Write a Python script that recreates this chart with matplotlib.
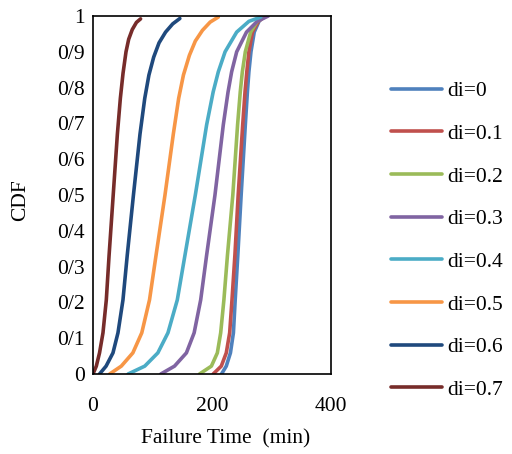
import matplotlib
matplotlib.use('Agg')
import matplotlib.pyplot as plt

plt.rcParams['font.family'] = ['Liberation Serif', 'DejaVu Serif']

# Failure time (min) / CDF points for each di value
labels = ['di=0', 'di=0.1', 'di=0.2', 'di=0.3', 'di=0.4', 'di=0.5', 'di=0.6', 'di=0.7']
colors = ['#4F81BD', '#C0504D', '#9BBB59', '#8064A2', '#4BACC6', '#F79646', '#1F497D', '#772C2A']

t_d0 = [216, 224, 231, 236, 239, 243.4, 249, 256, 259.5, 262, 265.5, 271, 279, 287]
c_d0 = [0, 0.022, 0.059, 0.115, 0.207, 0.332, 0.5, 0.696, 0.788, 0.844, 0.90, 0.955, 0.985, 1.0]

t_d1 = [202, 215.6, 224, 229.7, 233.6, 238.5, 244, 251.6, 255.5, 258.5, 262, 268, 278, 290]
c_d1 = [0, 0.022, 0.059, 0.115, 0.207, 0.332, 0.5, 0.696, 0.788, 0.844, 0.90, 0.955, 0.985, 1.0]

t_d2 = [179, 199, 209, 214.6, 220, 226, 235, 243, 247.5, 251, 256, 265, 276, 290]
c_d2 = [0, 0.022, 0.059, 0.115, 0.207, 0.332, 0.5, 0.696, 0.788, 0.844, 0.90, 0.955, 0.985, 1.0]

t_d3 = [114, 137, 157, 170, 181, 191, 205, 219, 227, 233, 241.5, 258, 276, 294.6]
c_d3 = [0, 0.022, 0.059, 0.115, 0.207, 0.332, 0.5, 0.696, 0.788, 0.844, 0.90, 0.955, 0.985, 1.0]

t_d4 = [59, 87, 109, 126, 141.7, 154.6, 172, 191, 202, 210.6, 222, 241.5, 262, 282]
c_d4 = [0, 0.022, 0.059, 0.115, 0.207, 0.332, 0.5, 0.696, 0.788, 0.844, 0.90, 0.955, 0.985, 0.997]

t_d5 = [28, 47.6, 67, 82, 95, 106, 121, 135, 144, 152, 162, 172, 184, 197, 210.6]
c_d5 = [0, 0.022, 0.059, 0.115, 0.207, 0.332, 0.5, 0.67, 0.77, 0.835, 0.89, 0.93, 0.96, 0.983, 0.997]

t_d6 = [11, 22, 33.6, 42, 50.4, 57.6, 68, 79, 87, 94, 102, 111, 122, 134, 146]
c_d6 = [0, 0.022, 0.059, 0.115, 0.207, 0.332, 0.5, 0.67, 0.77, 0.835, 0.885, 0.925, 0.955, 0.978, 0.993]

t_d7 = [0, 5.6, 11, 16.8, 22.4, 27, 34, 41, 46, 50.5, 55.5, 60, 66, 73, 80]
c_d7 = [0, 0.022, 0.059, 0.115, 0.207, 0.33, 0.5, 0.67, 0.77, 0.84, 0.90, 0.935, 0.962, 0.982, 0.992]

times = [t_d0, t_d1, t_d2, t_d3, t_d4, t_d5, t_d6, t_d7]
cdfs = [c_d0, c_d1, c_d2, c_d3, c_d4, c_d5, c_d6, c_d7]

y_ticks = [0, 0.1, 0.2, 0.3, 0.4, 0.5, 0.6, 0.7, 0.8, 0.9, 1.0]
y_tick_labels = ['0', '0/1', '0/2', '0/3', '0/4', '0/5', '0/6', '0/7', '0/8', '0/9', '1']
x_ticks = [0, 200, 400]

fig = plt.figure(figsize=(5.12, 4.54), dpi=100)
ax = fig.add_axes([0.1816, 0.1762, 0.4649, 0.7886])

for t, c, lab, col in zip(times, cdfs, labels, colors):
    ax.plot(t, c, color=col, linewidth=2.6, label=lab,
            solid_capstyle='round', solid_joinstyle='round')

ax.set_xlim(0, 400)
ax.set_ylim(0, 1)
ax.set_xticks(x_ticks)
ax.set_yticks(y_ticks)
ax.set_yticklabels(y_tick_labels)
ax.tick_params(length=0, labelsize=15.5)
ax.tick_params(axis='x', pad=16.5)
ax.tick_params(axis='y', pad=6)
for s in ax.spines.values():
    s.set_linewidth(1.2)

ax.set_xlabel('Failure Time  (min)', fontsize=15.5)
ax.set_ylabel('CDF', fontsize=15.5)
ax.xaxis.set_label_coords(0.559, -0.155)
ax.yaxis.set_label_coords(-0.265, 0.486)

fig.legend(loc='center left', bbox_to_anchor=(0.7255, 0.47), frameon=False,
           fontsize=15.5, handlelength=2.4, handletextpad=0.2, labelspacing=1.05)

fig.savefig('out.png', dpi=100)
